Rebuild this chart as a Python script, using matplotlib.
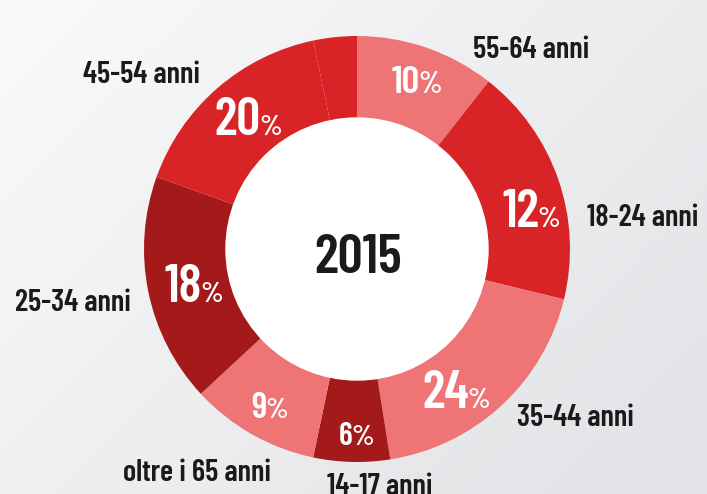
import numpy as np
import matplotlib
matplotlib.use('Agg')
import matplotlib.pyplot as plt
from matplotlib.patches import Circle

plt.rcParams['font.family'] = ['Barlow Condensed', 'DejaVu Sans']
plt.rcParams['font.weight'] = 600

# slices clockwise from 12 o'clock (sizes as drawn, in %)
groups = ['55-64 anni', '18-24 anni', '35-44 anni', '14-17 anni',
          'oltre i 65 anni', '25-34 anni', '45-54 anni', '']
shares = [10.6, 18.2, 18.7, 5.8, 9.8, 17.4, 16.2, 3.3]
pct_labels = ['10', '12', '24', '6', '9', '18', '20', '']
year = '2015'

LIGHT = '#ee7476'
RED = '#d92427'
DARK = '#a41a1a'
colors = [LIGHT, RED, LIGHT, DARK, LIGHT, DARK, RED, RED]

W, H = 707, 494
fig = plt.figure(figsize=(W / 100, H / 100), dpi=100)

# background gradient
bg = fig.add_axes([0, 0, 1, 1])
xx, yy = np.meshgrid(np.linspace(0, 1, 200), np.linspace(0, 1, 140))
t = np.clip(0.65 * xx + 0.45 * yy, 0, 1)
c0 = np.array([250, 250, 250]) / 255
c1 = np.array([227, 228, 231]) / 255
img = c0 + (c1 - c0) * t[..., None]
bg.imshow(img, extent=[0, 1, 0, 1], aspect='auto', origin='upper')
bg.axis('off')

ax = fig.add_axes([0, 0, 1, 1])
ax.patch.set_alpha(0)

def py(y):
    return H - y

cx, cy, R, r = 357, 249, 213, 131
ax.pie(shares, colors=colors, startangle=90, counterclock=False,
       center=(cx, py(cy)), radius=R,
       wedgeprops=dict(width=R - r, linewidth=0))
ax.add_patch(Circle((cx, py(cy)), r, color='white', zorder=3))

ax.text(358, py(273), year, ha='center', va='baseline', fontsize=40,
        color='#1a1a1a', zorder=4)

# percentage labels: junction x, baseline y, number size, % size
pct_pos = [(419, 93, 28, 22), (538, 227, 38, 21), (468, 408, 38, 21),
           (352, 445, 23, 21), (266, 418, 26, 21), (201, 302, 38, 21),
           (260, 135, 38, 21)]
for lab, (x, y, s1, s2) in zip(pct_labels, pct_pos):
    ax.text(x + 1, py(y), lab, ha='right', va='baseline', fontsize=s1,
            color='white', zorder=4)
    ax.text(x - 1, py(y), '%', ha='left', va='baseline', fontsize=s2,
            color='white', zorder=4)

# group labels: left x, baseline y
label_pos = [(473, 58), (587, 226), (517, 426), (327, 495),
             (123, 481), (15, 311), (83, 83)]
for lab, (x, y) in zip(groups, label_pos):
    ax.text(x, py(y), lab, ha='left', va='baseline', fontsize=22,
            color='#1a1a1a', zorder=4)

ax.set_xlim(0, W)
ax.set_ylim(0, H)
ax.set_aspect('equal')
ax.axis('off')

fig.savefig('out.png', dpi=100)
